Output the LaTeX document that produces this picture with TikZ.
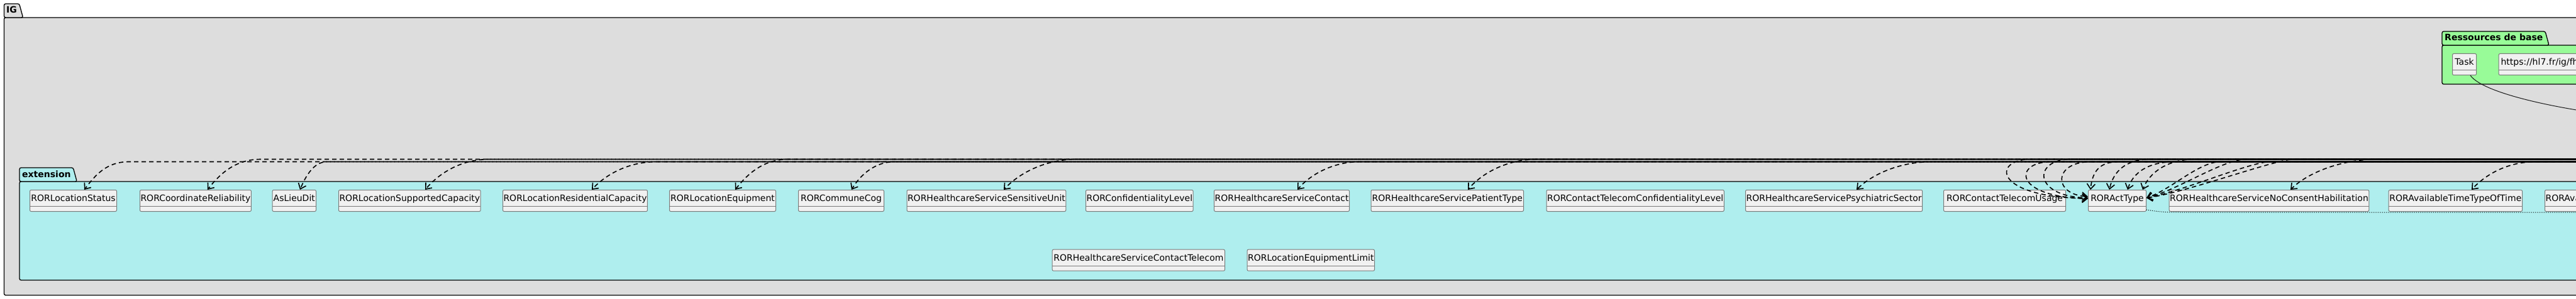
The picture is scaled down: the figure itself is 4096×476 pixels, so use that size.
\documentclass[tikz,border=0pt]{standalone}
\usepackage{fontspec}
\setmainfont{DejaVu Sans}
\usetikzlibrary{arrows.meta,calc}
\pgfdeclarelayer{bg}
\pgfsetlayers{bg,main}
\definecolor{igfill}{HTML}{DDDDDD}
\definecolor{extfill}{HTML}{AFEEEE}
\definecolor{resfill}{HTML}{98FB98}
\definecolor{clsfill}{HTML}{F1F1F1}
\definecolor{clsline}{HTML}{7A7A7A}
\definecolor{edgecol}{HTML}{181818}
\begin{document}
\begin{tikzpicture}[x=1pt,y=-1pt,
  font=\fontsize{14pt}{16pt}\selectfont,
  pkg/.style={draw=black,line width=1.3pt,rounded corners=2.5pt},
  pkglabel/.style={font=\fontsize{14pt}{16pt}\selectfont\bfseries,inner sep=0pt,anchor=base west},
  cls/.style={draw=clsline,fill=clsfill,line width=1pt,rounded corners=2pt,anchor=north west,
    minimum height=34pt,text height=10pt,text depth=8pt,inner xsep=1pt,inner ysep=0pt,
    path picture={\draw[clsline,line width=1pt] ([yshift=8pt]path picture bounding box.south west) -- ([yshift=8pt]path picture bounding box.south east);}},
  dep/.style={draw=black,line width=1.6pt,dash pattern=on 7pt off 5pt,
    -{Straight Barb[length=8pt,width=13pt,line width=1.6pt]}},
  dotl/.style={draw=black,line width=1pt,dash pattern=on 1pt off 2pt},
  taskl/.style={draw=edgecol,line width=1pt}
]
\useasboundingbox (0,0) rectangle (4096,476);
\begin{scope}
\clip (0,0) rectangle (4096,476);
% package labels
\node[pkglabel] (iglab) at (10,21) {IG};
\node[pkglabel] (extlab) at (35,282) {extension};
\node[pkglabel] (reslab) at (3887,65) {Ressources de base};
\begin{pgfonlayer}{bg}
\begin{scope}
\clip (0,0) rectangle (4096,476);
\fill[white] (0,0) rectangle (4096,476);
\draw[pkg,fill=igfill] (6.5,28) rectangle (4300,470);
\draw[pkg,fill=igfill] let \p1=(iglab.east) in (6.5,28) -- (6.5,6) -- (\x1+3.5,6) -- (\x1+9.5,28) -- cycle;
\draw[pkg,fill=resfill] (3883,72) rectangle (4300,134);
\draw[pkg,fill=resfill] let \p1=(reslab.east) in (3883,72) -- (3883,50) -- (\x1+3.5,50) -- (\x1+9.5,72) -- cycle;
\draw[pkg,fill=extfill] (31,289) rectangle (4300,446);
\draw[pkg,fill=extfill] let \p1=(extlab.east) in (31,289) -- (31,267) -- (\x1+3.5,267) -- (\x1+9.5,289) -- cycle;
\end{scope}
\end{pgfonlayer}
% Ressources de base
\node[cls,minimum width=38pt] (task) at (3899,85) {Task};
\node[cls,inner xsep=3.3pt] (url) at (3972.7,85) {https://hl7.fr/ig/fhir};
% extension row 1
\node[cls,minimum width=138pt] (ls) at (47,302) {RORLocationStatus};
\node[cls,minimum width=175pt] (cr) at (222,302) {RORCoordinateReliability};
\node[cls,minimum width=69.4pt] (ald) at (432.6,302) {AsLieuDit};
\node[cls,minimum width=225pt] (lsc) at (538,302) {RORLocationSupportedCapacity};
\node[cls,minimum width=228pt] (lrc) at (799,302) {RORLocationResidentialCapacity};
\node[cls,minimum width=169pt] (le) at (1064,302) {RORLocationEquipment};
\node[cls,minimum width=136pt] (cc) at (1269,302) {RORCommuneCog};
\node[cls,minimum width=249.5pt] (hssu) at (1441.5,302) {RORHealthcareServiceSensitiveUnit};
\node[cls,minimum width=168pt] (cl) at (1726,302) {RORConfidentialityLevel};
\node[cls,minimum width=214.6pt] (hsc) at (1930,302) {RORHealthcareServiceContact};
\node[cls,minimum width=242.5pt] (hspt) at (2179.5,302) {RORHealthcareServicePatientType};
\node[cls,minimum width=281.5pt] (ctcl) at (2458.5,302) {RORContactTelecomConfidentialityLevel};
\node[cls,minimum width=279.5pt] (hsps) at (2775,302) {RORHealthcareServicePsychiatricSector};
\node[cls,minimum width=194pt] (ctu) at (3090,302) {RORContactTelecomUsage};
\node[cls,minimum width=92pt] (act) at (3320,302) {RORActType};
\node[cls,minimum width=313.3pt] (hsnch) at (3448.7,302) {RORHealthcareServiceNoConsentHabilitation};
\node[cls,minimum width=212.3pt] (atto) at (3797.7,302) {RORAvailableTimeTypeOfTime};
\node[cls] (avx) at (4046,302) {RORAvailableStartTime};
% extension row 2
\node[cls,minimum width=274.3pt] (hsct) at (1672.7,396.7) {RORHealthcareServiceContactTelecom};
\node[cls,minimum width=200.4pt] (lel) at (1982.6,396.7) {RORLocationEquipmentLimit};
% free ends of connectors (sources lie outside the picture)
\coordinate (srcA) at (4300,253.5);
\coordinate (srcB) at (4300,257.5);
\coordinate (dotend) at (4300,338);
\coordinate (taskend) at (4200,188);
% Task link
\draw[taskl] ([xshift=29pt]task.south west) .. controls +(22,32) and +(-100,-8) .. (taskend);
% dotted link
\draw[dotl] ([yshift=3pt]act.south east) .. controls +(25,4) and +(-25,0) .. (3470,338) -- (dotend);
% dependencies to single extensions
\draw[dep] (srcB) -- (205,257.5) .. controls +(-35,0) and +(18,-24) .. ([xshift=87pt]ls.north west);
\draw[dep,dash phase=3pt] (srcA) -- (415,253.5) .. controls +(-40,0) and +(20,-26) .. ([xshift=108pt]cr.north west);
\draw[dep,dash phase=6pt] (srcB) -- (520,257.5) .. controls +(-20,0) and +(10,-24) .. ([xshift=44.4pt]ald.north west);
\draw[dep,dash phase=9pt] (srcA) -- (778,253.5) .. controls +(-45,0) and +(22,-26) .. ([xshift=138pt]lsc.north west);
\draw[dep,dash phase=2pt] (srcB) -- (1044,257.5) .. controls +(-45,0) and +(22,-24) .. ([xshift=142pt]lrc.north west);
\draw[dep,dash phase=5pt] (srcA) -- (1253,253.5) .. controls +(-38,0) and +(20,-26) .. ([xshift=105pt]le.north west);
\draw[dep,dash phase=8pt] (srcB) -- (1422,257.5) .. controls +(-30,0) and +(14,-24) .. ([xshift=85pt]cc.north west);
\draw[dep,dash phase=11pt] (srcA) -- (1712,253.5) .. controls +(-50,0) and +(24,-26) .. ([xshift=154.5pt]hssu.north west);
\draw[dep,dash phase=1pt] (srcB) -- (2162,257.5) .. controls +(-42,0) and +(20,-24) .. ([xshift=133pt]hsc.north west);
\draw[dep,dash phase=4pt] (srcA) -- (2444,253.5) .. controls +(-48,0) and +(22,-26) .. ([xshift=154.5pt]hspt.north west);
\draw[dep,dash phase=7pt] (srcB) -- (3072,257.5) .. controls +(-52,0) and +(24,-24) .. ([xshift=177pt]hsps.north west);
\draw[dep,dash phase=10pt] (srcA) -- (3781,253.5) .. controls +(-60,0) and +(26,-26) .. ([xshift=193.3pt]hsnch.north west);
\draw[dep,dash phase=3pt] (srcB) -- (4032,257.5) .. controls +(-45,0) and +(22,-24) .. ([xshift=132.3pt]atto.north west);
% dependencies to RORActType: loops from the left
\draw[dep] (srcA) -- (3228,253.5) .. controls (3168,254) and (3168,314) .. ([yshift=-14pt]act.north west);
\draw[dep,dash phase=4pt] (srcB) -- (3261,257.5) .. controls (3201,258) and (3201,314) .. ([yshift=-14pt]act.north west);
\draw[dep,dash phase=8pt] (srcA) -- (3292,253.5) .. controls (3232,254) and (3232,313) .. ([yshift=-13pt]act.north west);
\draw[dep,dash phase=2pt] (srcB) -- (3324,257.5) .. controls (3264,258) and (3264,310) .. ([yshift=-11pt]act.north west);
% from the top
\draw[dep,dash phase=6pt] (srcB) -- (3369,257.5) .. controls +(-30,0) and +(3,-30) .. ([xshift=4pt]act.north west);
\draw[dep,dash phase=1pt] (srcA) -- (3419,253.5) .. controls +(-40,0) and +(6,-28) .. ([xshift=34pt]act.north west);
\draw[dep,dash phase=9pt] (srcB) -- (3459,257.5) .. controls +(-45,0) and +(8,-26) .. ([xshift=63pt]act.north west);
\draw[dep,dash phase=5pt] (srcA) -- (3490,253.5) .. controls +(-45,0) and +(10,-26) .. ([xshift=87pt]act.north west);
% from the right
\draw[dep,dash phase=3pt] (srcB) -- (3528,257.5) .. controls +(-35,3) and +(40,-14) .. ([yshift=-13pt]act.north east);
\draw[dep,dash phase=7pt] (srcA) -- (3568,253.5) .. controls +(-40,4) and +(48,-12) .. ([yshift=-13pt]act.north east);
\draw[dep,dash phase=11pt] (srcB) -- (3606,257.5) .. controls +(-40,5) and +(55,-10) .. ([yshift=-13pt]act.north east);
\draw[dep,dash phase=2pt] (srcA) -- (3644,253.5) .. controls +(-40,5) and +(60,-8) .. ([yshift=-13pt]act.north east);
\end{scope}
\end{tikzpicture}
\end{document}
